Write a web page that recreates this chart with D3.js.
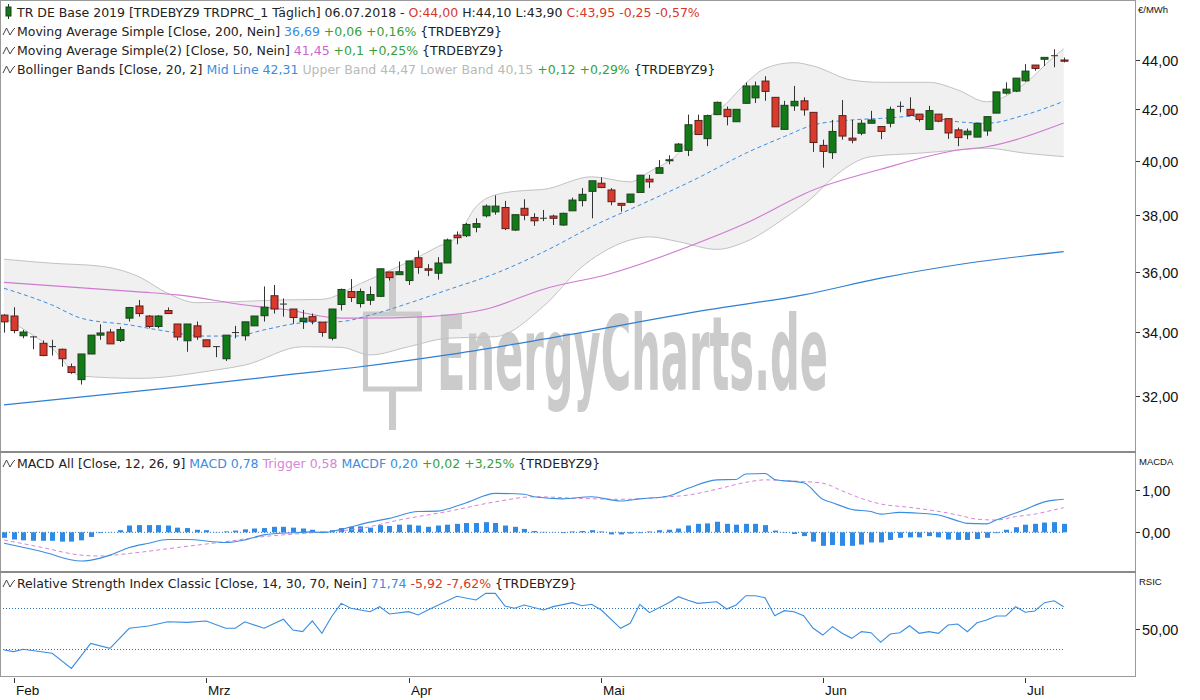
<!DOCTYPE html>
<html><head><meta charset="utf-8">
<script src="https://cdn.jsdelivr.net/npm/d3@7"></script>
<style>
body{margin:0;background:#fff;}
svg{display:block;font-family:"DejaVu Sans",sans-serif;}
text{white-space:pre;}
</style>
</head><body>
<svg id="chart" width="1200" height="700"></svg>
<script>
// ---------- DATA ----------
const opens = [34.55,34.52,33.88,33.86,33.64,33.55,33.45,32.90,32.50,33.30,
33.90,34.00,33.73,34.45,34.85,34.52,34.18,34.70,34.26,33.72,
34.20,33.75,33.55,33.15,33.98,33.88,34.20,34.53,35.19,34.93,
34.75,34.34,34.50,34.32,33.80,34.90,35.33,34.93,35.04,35.17,
35.99,35.90,35.70,36.48,36.10,35.95,36.30,37.27,37.25,37.55,
37.96,38.10,38.26,37.45,38.23,37.90,37.89,37.95,37.63,38.14,
38.51,38.85,39.15,38.90,38.41,38.45,38.81,39.30,39.52,40.00,
40.35,40.39,41.55,40.84,41.78,41.99,41.50,42.23,42.45,43.13,
42.47,41.20,42.13,42.33,41.87,40.58,40.30,41.74,40.86,41.05,
41.44,41.31,41.44,42.11,41.99,41.80,41.20,41.80,41.62,41.18,
40.99,40.90,41.14,41.84,42.64,42.72,43.14,43.79,44.03,44.20,44.00];
const highs = [34.58,34.81,34.07,33.86,33.73,33.75,33.47,33.00,33.30,33.90,
34.25,34.10,34.17,34.82,35.05,34.55,34.55,34.80,34.26,34.26,
34.34,33.75,33.55,33.90,34.20,34.33,34.52,35.50,35.55,35.10,
34.75,34.72,34.60,34.32,34.75,35.43,35.75,35.43,35.50,36.10,
35.99,36.35,36.37,36.73,36.26,36.50,37.15,37.40,37.70,37.87,
38.37,38.70,38.50,38.00,38.56,38.05,38.17,38.00,38.07,38.62,
38.97,39.24,39.37,38.97,38.41,38.75,39.45,39.46,40.02,40.20,
40.67,41.78,41.78,41.78,42.30,42.10,41.99,43.07,43.11,43.33,
42.47,42.33,42.93,42.47,41.87,40.80,41.57,42.36,41.57,41.57,
41.93,41.31,42.10,42.30,42.47,41.80,42.13,41.80,41.62,41.27,
41.23,41.44,41.70,42.69,43.08,43.25,43.83,43.79,44.11,44.45,44.10];
const lows = [33.98,33.96,33.80,33.45,33.23,33.25,32.90,32.68,32.35,33.30,
33.75,33.62,33.68,34.34,34.50,34.12,34.12,34.60,33.73,33.37,
33.75,33.52,33.20,33.08,33.80,33.73,34.20,34.34,34.60,34.50,
34.27,34.10,34.25,33.85,33.73,34.70,34.98,34.80,34.88,35.17,
35.70,35.90,35.55,35.93,35.85,35.73,36.30,36.95,37.20,37.37,
37.90,38.00,37.45,37.42,37.80,37.60,37.77,37.63,37.60,38.14,
38.30,37.87,38.97,38.34,38.11,38.42,38.81,38.97,39.52,39.86,
40.35,40.17,40.98,40.55,41.78,41.36,41.50,42.23,42.24,42.33,
41.30,41.20,41.93,41.74,40.33,39.73,40.06,40.80,40.66,40.97,
41.44,40.82,41.28,41.87,41.73,41.50,41.20,41.48,40.83,40.55,
40.82,40.90,40.95,41.84,42.58,42.68,43.10,43.56,43.75,43.70,43.90];
const closes = [34.33,34.05,34.00,33.85,33.25,33.53,33.15,32.72,33.30,33.90,
33.97,33.62,34.08,34.80,34.60,34.18,34.52,34.60,33.84,34.26,
33.84,33.53,33.53,33.90,34.00,34.33,34.52,34.81,34.75,34.92,
34.47,34.45,34.35,33.99,34.75,35.40,35.13,35.33,35.23,36.10,
35.80,36.00,36.37,36.15,36.05,36.30,37.10,37.18,37.65,37.68,
38.31,38.31,37.50,38.00,37.98,37.78,37.87,37.87,38.05,38.53,
38.74,39.24,38.99,38.47,38.34,38.75,39.45,39.20,39.73,40.03,
40.63,41.38,41.00,41.74,42.27,41.70,41.99,42.93,42.93,42.71,
41.30,42.15,42.31,41.97,40.69,40.35,41.12,40.94,40.78,41.44,
41.57,41.12,41.99,42.13,41.75,41.59,41.94,41.52,41.06,40.88,
41.13,41.44,41.70,42.69,42.80,43.25,43.54,43.65,44.11,44.20,43.95];

// indicator lines, sampled [candle index, value]
const ma200 = [[0,31.73],[18,32.27],[30,32.67],[37,32.90],[46,33.27],[56,33.77],[73,34.72],[83,35.22],[91,35.78],[100,36.29],[110,36.69]];
const ma50 = [[0,35.64],[14,35.32],[18,35.22],[25,34.88],[29,34.74],[35,34.45],[37,34.45],[44,34.50],[50,34.74],[56,35.41],[63,35.94],[71,36.86],[77,37.69],[84,38.90],[91,39.67],[99,40.40],[102,40.53],[110,41.45]];
const bbMid = [[0,35.44],[5,34.88],[8,34.45],[13,34.23],[16,34.07],[21,33.87],[24,33.87],[27,34.07],[31,34.30],[35,34.34],[38,34.55],[42,34.94],[46,35.38],[51,35.94],[57,36.85],[61,37.57],[66,38.35],[72,39.34],[77,40.28],[81,40.92],[84,41.37],[88,41.57],[91,41.63],[95,41.72],[99,41.50],[102,41.44],[106,41.77],[110,42.31]];
const bbUpper = [[0,36.43],[5,36.29],[10,36.19],[14,35.83],[17,35.27],[20,34.96],[29,35.05],[33,35.07],[37,35.60],[39,35.89],[42,36.34],[45,36.86],[47,37.21],[49,38.29],[51,38.72],[54,38.88],[56,38.92],[61,39.39],[65,39.20],[67,39.58],[70,40.28],[72,41.30],[75,42.23],[77,43.04],[79,43.65],[82,43.89],[84,43.75],[88,43.17],[91,43.08],[96,43.08],[99,42.77],[102,42.29],[106,43.04],[109,44.14],[110,44.47]];
const bbLower = [[0,34.46],[3,33.90],[5,33.47],[8,32.61],[14,32.54],[22,32.80],[25,32.95],[31,33.53],[35,33.51],[38,33.27],[42,33.53],[46,33.80],[51,33.85],[56,34.84],[60,36.17],[62,36.64],[65,37.10],[67,37.21],[70,37.04],[74,36.77],[77,37.04],[81,37.87],[84,38.65],[86,39.34],[90,40.15],[95,40.28],[99,40.40],[102,40.47],[106,40.28],[110,40.15]];

const macdHist = [-0.13,-0.17,-0.19,-0.20,-0.20,-0.20,-0.22,-0.22,-0.19,-0.11,
-0.02,0.005,0.05,0.16,0.17,0.17,0.17,0.16,0.11,0.10,
0.06,0.05,0.005,0.02,0.04,0.07,0.09,0.10,0.13,0.13,
0.11,0.09,0.06,0.02,0.05,0.10,0.13,0.14,0.11,0.17,
0.15,0.18,0.18,0.16,0.13,0.16,0.18,0.20,0.22,0.22,
0.24,0.22,0.16,0.13,0.08,0.03,0.01,0.005,-0.02,0.02,
0.03,0.05,0.02,-0.05,-0.05,-0.03,-0.02,0.02,0.05,0.06,
0.09,0.16,0.20,0.21,0.25,0.20,0.18,0.20,0.20,0.17,
0.04,-0.01,-0.04,-0.09,-0.22,-0.32,-0.30,-0.32,-0.32,-0.29,
-0.24,-0.24,-0.18,-0.13,-0.12,-0.12,-0.09,-0.12,-0.17,-0.18,
-0.18,-0.16,-0.13,-0.02,0.06,0.12,0.18,0.20,0.23,0.24,0.20];
const macdLine = [[0,-0.26],[4,-0.46],[8,-0.68],[10,-0.61],[11,-0.54],[13,-0.36],[15,-0.26],[17,-0.17],[19,-0.17],[23,-0.24],[25,-0.18],[27,-0.06],[30,-0.01],[32,0.01],[33,-0.01],[35,0.07],[38,0.24],[40,0.33],[43,0.49],[45,0.50],[46,0.55],[48,0.70],[51,0.92],[54,0.90],[55,0.84],[58,0.79],[61,0.84],[64,0.74],[66,0.79],[69,0.86],[71,1.04],[74,1.24],[76,1.25],[77,1.38],[79,1.39],[80,1.25],[83,1.17],[85,0.78],[86,0.70],[88,0.54],[90,0.49],[91,0.43],[93,0.47],[95,0.45],[97,0.41],[99,0.27],[100,0.21],[102,0.20],[103,0.29],[106,0.54],[108,0.72],[109,0.76],[110,0.78]];
const macdTrigger = [[0,-0.18],[4,-0.36],[8,-0.54],[10,-0.56],[13,-0.50],[18,-0.36],[23,-0.22],[27,-0.10],[32,-0.01],[37,0.09],[41,0.29],[46,0.49],[51,0.72],[55,0.84],[60,0.80],[64,0.78],[69,0.84],[71,0.88],[74,1.02],[77,1.18],[79,1.24],[81,1.22],[83,1.20],[85,1.16],[87,0.98],[89,0.80],[91,0.67],[94,0.59],[96,0.53],[99,0.41],[101,0.31],[103,0.29],[105,0.37],[107,0.43],[109,0.53],[110,0.58]];
const rsi = [[0,29.5],[1,27.9],[2,30.2],[5,26.3],[7,11.6],[9,36],[11,31.2],[13,50.7],[15,53],[17,57],[19,56.5],[21,57.8],[23,50.7],[24,50.7],[25,57],[27,50.7],[29,59.5],[30,49],[31,47.4],[32,58],[33,45.8],[34,62],[35,75],[36,70.2],[38,66.9],[39,71.8],[40,64.6],[42,66.9],[43,63.7],[44,68.5],[47,82],[49,78.3],[50,84.8],[51,84.8],[52,72.4],[53,70.2],[54,73.4],[56,68.5],[57,71.8],[59,75.7],[60,72.7],[61,74.1],[62,68.5],[64,50.7],[65,55.6],[66,74.1],[67,65.9],[69,75.7],[70,81.5],[71,78],[72,75],[74,76.6],[75,69.5],[76,73.4],[77,82.5],[78,82.5],[79,80.5],[80,63],[81,67.9],[82,66.9],[83,63],[84,50.7],[85,44.1],[86,52.3],[87,45.8],[88,40.9],[89,47.4],[90,46.4],[91,37],[92,45.1],[93,46.4],[94,53.2],[95,45.8],[96,47.4],[97,45.8],[98,53.9],[99,54.9],[100,47.4],[101,56.1],[102,58.8],[103,62.7],[104,62.7],[105,71.8],[106,66.3],[107,67.6],[108,75.7],[109,77.6],[110,71.74]];

const priceTicks = [32,34,36,38,40,42,44];
const macdTicks = [0,1];
const rsiTicks = [50];
const rsiLevels = [30,70];
const monthLabels = ["Feb","Mrz","Apr","Mai","Jun","Jul"];
const monthIndex = [1,21,42,62,85,106];

// ---------- LAYOUT ----------
const C = {dark:"#222", red:"#d6382c", blue:"#3a8de0", green:"#3a9f3a", mag:"#cc66cc", pink:"#d884d8", gray:"#b9b9b9",
  candUp:"#127a16", candUpS:"#1e3f1e", candDn:"#d83a2c", candDnS:"#5a1f1a"};
const svg = d3.select("#chart");
const plotR = 1135;
const main = {top:0, bottom:452}, macdP = {top:453, bottom:572}, rsiP = {top:573, bottom:676};

const x = d3.scaleLinear().domain([0,110]).range([4,1063.7]);
const yP = d3.scaleLog().domain([32,44]).range([396,60]);
const yM = d3.scaleLinear().domain([0,1]).range([532.3,490]);
const yR = d3.scaleLinear().domain([50,70]).range([629,608.5]);

const defs = svg.append("defs");
[["cMain",main],["cMacd",macdP],["cRsi",rsiP]].forEach(([id,p])=>{
  defs.append("clipPath").attr("id",id).append("rect").attr("x",1).attr("y",p.top+1).attr("width",plotR-1).attr("height",p.bottom-p.top-1);
});

const gMain = svg.append("g").attr("clip-path","url(#cMain)");
const lineP = d3.line().x(d=>x(d[0])).y(d=>yP(d[1])).curve(d3.curveMonotoneX);

// Bollinger fill
const upPath = lineP(bbUpper);
const loPath = lineP(bbLower.slice().reverse());
gMain.append("path").attr("d", upPath + loPath.replace(/^M/,"L") + "Z").attr("fill","#f0f0f0").attr("stroke","none");

// Watermark (beneath lines and candles)
const wmCol = "#cbcbcb";
const wm = gMain.append("g").attr("fill",wmCol).attr("stroke","none");
wm.append("rect").attr("x",365.5).attr("y",314).attr("width",54).attr("height",75).attr("fill","none").attr("stroke",wmCol).attr("stroke-width",5);
wm.append("rect").attr("x",389).attr("y",271).attr("width",7).attr("height",41);
wm.append("rect").attr("x",389).attr("y",391).attr("width",7).attr("height",39);
const wt = wm.append("text").attr("x",0).attr("y",0)
  .attr("font-family","'Liberation Sans Narrow','DejaVu Sans Condensed',sans-serif")
  .attr("font-weight","bold").attr("font-size",103).text("EnergyCharts.de");
const wtw = wt.node().getComputedTextLength() || 390;
wt.attr("transform",`translate(437,390) scale(${391/wtw},1)`);

// band lines and averages
[bbUpper,bbLower].forEach(d=>gMain.append("path").attr("d",lineP(d)).attr("fill","none").attr("stroke","#c2c2c2").attr("stroke-width",1));
gMain.append("path").attr("d",lineP(ma200)).attr("fill","none").attr("stroke","#2f7fd2").attr("stroke-width",1.2);
gMain.append("path").attr("d",lineP(ma50)).attr("fill","none").attr("stroke","#d07ad0").attr("stroke-width",1.1);
gMain.append("path").attr("d",lineP(bbMid)).attr("fill","none").attr("stroke","#3a8de0").attr("stroke-width",1).attr("stroke-dasharray","4,3");

// Candles
const candles = d3.range(opens.length).map(i=>({i,o:opens[i],h:highs[i],l:lows[i],c:closes[i]}));
const gc = gMain.append("g");
gc.selectAll("line.w").data(candles).join("line").attr("class","w")
  .attr("x1",d=>Math.round(x(d.i))+0.5).attr("x2",d=>Math.round(x(d.i))+0.5)
  .attr("y1",d=>yP(d.h)).attr("y2",d=>yP(d.l)).attr("stroke","#333").attr("stroke-width",1);
gc.selectAll("rect.b").data(candles).join("rect").attr("class","b")
  .attr("x",d=>Math.round(x(d.i))-3)
  .attr("y",d=>yP(Math.max(d.o,d.c)))
  .attr("width",7)
  .attr("height",d=>Math.max(1,Math.abs(yP(d.o)-yP(d.c))))
  .attr("fill",d=>Math.abs(d.c-d.o)<0.025?"#333":(d.c>d.o?C.candUp:C.candDn))
  .attr("stroke",d=>Math.abs(d.c-d.o)<0.025?"none":(d.c>d.o?C.candUpS:C.candDnS))
  .attr("stroke-width",1);

// MACD panel
const gM = svg.append("g").attr("clip-path","url(#cMacd)");
gM.append("line").attr("x1",x(0)-4).attr("x2",x(110)).attr("y1",yM(0)).attr("y2",yM(0)).attr("stroke","#2a6db8").attr("stroke-dasharray","1,2");
gM.selectAll("rect").data(macdHist).join("rect")
  .attr("x",(d,i)=>Math.round(x(i))-2).attr("width",5)
  .attr("y",d=>Math.min(yM(0),yM(d))).attr("height",d=>Math.abs(yM(d)-yM(0)))
  .attr("fill","#2f8ae6");
const lineM = d3.line().x(d=>x(d[0])).y(d=>yM(d[1])).curve(d3.curveMonotoneX);
gM.append("path").attr("d",lineM(macdTrigger)).attr("fill","none").attr("stroke",C.pink).attr("stroke-width",1).attr("stroke-dasharray","4,3");
gM.append("path").attr("d",lineM(macdLine)).attr("fill","none").attr("stroke","#3a8de0").attr("stroke-width",1.1);

// RSI panel
const gR = svg.append("g").attr("clip-path","url(#cRsi)");
rsiLevels.forEach(v=>gR.append("line").attr("x1",x(0)-4).attr("x2",x(110)).attr("y1",yR(v)).attr("y2",yR(v)).attr("stroke","#2a6db8").attr("stroke-dasharray","1,2"));
gR.append("path").attr("d",d3.line().x(d=>x(d[0])).y(d=>yR(d[1]))(rsi)).attr("fill","none").attr("stroke","#3a8de0").attr("stroke-width",1.1);

// Frames
const fr = svg.append("g").attr("fill","none");
fr.append("rect").attr("x",0.5).attr("y",0.5).attr("width",plotR).attr("height",rsiP.bottom).attr("stroke","#9a9a9a");
[main.bottom, macdP.bottom].forEach(y=>fr.append("line").attr("x1",0).attr("x2",plotR+1).attr("y1",y).attr("y2",y).attr("stroke","#8c8c8c").attr("stroke-width",2));

// Right axes
const ax = svg.append("g").attr("font-family","'Liberation Sans',Arial,sans-serif").attr("fill","#111");
const fmt = v=>v.toFixed(2).replace(".",",");
function rightAxis(scale, ticks){
  ticks.forEach(v=>{
    const y = Math.round(scale(v))+0.5;
    ax.append("line").attr("x1",plotR+1).attr("x2",plotR+5).attr("y1",y).attr("y2",y).attr("stroke","#333");
    ax.append("text").attr("x",plotR+7).attr("y",y+5).attr("font-size",14.5).text(fmt(v));
  });
}
rightAxis(yP, priceTicks); rightAxis(yM, macdTicks); rightAxis(yR, rsiTicks);
ax.append("text").attr("x",plotR+3).attr("y",13).attr("font-size",9.5).text("€/MWh");
ax.append("text").attr("x",plotR+4).attr("y",465).attr("font-size",9.5).text("MACDA");
ax.append("text").attr("x",plotR+4).attr("y",585).attr("font-size",9.5).text("RSIC");

// Month axis
monthIndex.forEach((mi,k)=>{
  const xx = Math.round(x(mi))+0.5;
  ax.append("line").attr("x1",xx).attr("x2",xx).attr("y1",678).attr("y2",683).attr("stroke","#333");
  ax.append("text").attr("x",xx+1.5).attr("y",695).attr("font-size",13.5).text(monthLabels[k]);
});

// Legends
function legend(y, parts, icon){
  if(icon==="candle"){
    svg.append("line").attr("x1",8.5).attr("x2",8.5).attr("y1",y-13).attr("y2",y+2).attr("stroke","#1e3f1e");
    svg.append("rect").attr("x",6).attr("y",y-10).attr("width",5).attr("height",9).attr("fill",C.candUp).attr("stroke","#1e3f1e");
  } else {
    svg.append("path").attr("d",`M3,${y-1} L6.5,${y-8} L10,${y-1} L13,${y-6} L15,${y-8}`).attr("fill","none").attr("stroke","#444").attr("stroke-width",1);
  }
  const t = svg.append("text").attr("x",17).attr("y",y).attr("font-size",12.5);
  parts.forEach(p=>t.append("tspan").attr("fill",p[1]).text(p[0]));
}
legend(17,[["TR DE Base 2019 [TRDEBYZ9 TRDPRC_1 Täglich] 06.07.2018 - ",C.dark],["O:44,00 ",C.red],["H:44,10 L:43,90 ",C.dark],["C:43,95 -0,25 -0,57%",C.red]],"candle");
legend(36,[["Moving Average Simple [Close, 200, Nein] ",C.dark],["36,69 ",C.blue],["+0,06 +0,16% ",C.green],["{TRDEBYZ9}",C.dark]]);
legend(55,[["Moving Average Simple(2) [Close, 50, Nein] ",C.dark],["41,45 ",C.mag],["+0,1 +0,25% ",C.green],["{TRDEBYZ9}",C.dark]]);
legend(74,[["Bollinger Bands [Close, 20, 2] ",C.dark],["Mid Line 42,31 ",C.blue],["Upper Band 44,47 Lower Band 40,15 ",C.gray],["+0,12 +0,29% ",C.green],["{TRDEBYZ9}",C.dark]]);
legend(468,[["MACD All [Close, 12, 26, 9] ",C.dark],["MACD 0,78 ",C.blue],["Trigger 0,58 ",C.pink],["MACDF 0,20 ",C.blue],["+0,02 +3,25% ",C.green],["{TRDEBYZ9}",C.dark]]);
legend(588,[["Relative Strength Index Classic [Close, 14, 30, 70, Nein] ",C.dark],["71,74 ",C.blue],["-5,92 -7,62% ",C.red],["{TRDEBYZ9}",C.dark]]);
</script>
</body></html>
